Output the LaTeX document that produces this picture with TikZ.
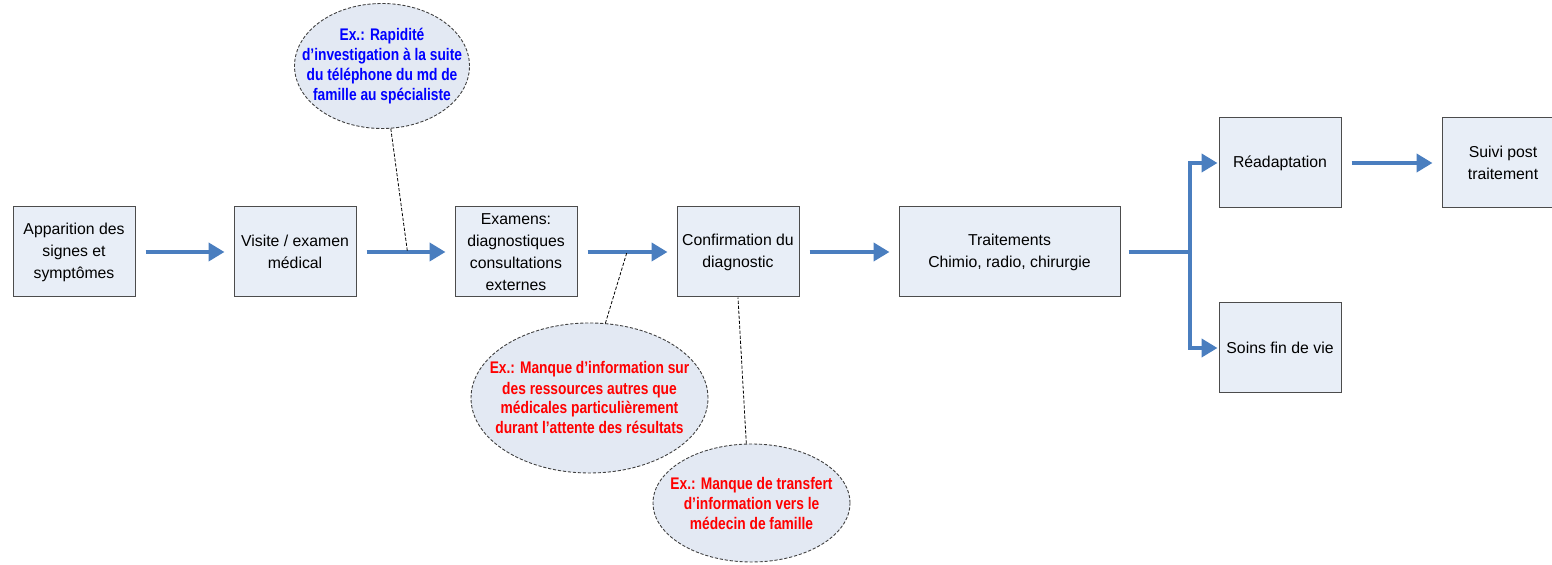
\documentclass[tikz,border=0pt]{standalone}
\usepackage{fontspec}
\setmainfont{Liberation Sans}
\newfontfamily\narrowfont{Liberation Sans}[FakeStretch=0.82]
\usetikzlibrary{positioning,shapes.geometric,arrows.meta,calc}
\definecolor{boxfill}{HTML}{E8EEF7}
\definecolor{ellfill}{HTML}{E3E9F3}
\definecolor{flowblue}{HTML}{4A7EBF}
\definecolor{noteblue}{HTML}{0000FF}
\definecolor{notered}{HTML}{FF0000}
\tikzset{
  stage/.style={draw=black!70, fill=boxfill, line width=0.5pt, minimum width=61pt,
    minimum height=45pt, inner sep=1pt, align=center, font=\fontsize{7.9}{11}\selectfont},
  note/.style={ellipse, draw=black!75, dash pattern=on 1.6pt off 0.9pt, fill=ellfill,
    line width=0.45pt, inner xsep=-20pt, inner ysep=-14pt, align=center,
    font={\narrowfont\fontsize{8.4}{10}\selectfont\bfseries}},
  flow/.style={draw=flowblue, line width=2pt, -{Triangle[length=8pt,width=9pt]},
    shorten <=5pt, shorten >=4.5pt},
  tie/.style={draw=black, line width=0.4pt, dash pattern=on 1.6pt off 0.9pt}
}

\begin{document}
\begin{tikzpicture}[x=0.5pt,y=-0.5pt]
\useasboundingbox (0,0) rectangle (1552,565);

% Nodes
  \node[stage] at (74,252)             (apparition) {Apparition des\\signes et\\symptômes};
  \node[stage, right=49pt of apparition] (visite)  {Visite / examen\\médical};
  \node[stage, right=49pt of visite]     (examens) {Examens:\\diagnostiques\\consultations\\externes};
  \node[stage, right=49.5pt of examens]  (confirm) {Confirmation du\\diagnostic};
  \node[stage, minimum width=110.5pt, right=49.5pt of confirm] (traite) {Traitements\\Chimio, radio, chirurgie};
  \node[stage] at (1280,163)           (readapt) {Réadaptation};
  \node[stage] at (1280,348)           (soins)   {Soins fin de vie};
  \node[stage, right=50pt of readapt]    (suivi)   {Suivi post\\traitement};

  \node[note, text=noteblue, minimum width=87.5pt, minimum height=62.5pt] at (382,66) (ell1)
    {Ex.: Rapidité\\d’investigation à la suite\\du téléphone du md de\\famille au spécialiste};
  \node[note, text=notered, minimum width=118.5pt, minimum height=75pt] at (589.5,398) (ell2)
    {Ex.: Manque d’information sur\\des ressources autres que\\médicales particulièrement\\durant l’attente des résultats};
  \node[note, text=notered, minimum width=98.5pt, minimum height=59pt] at (751.5,503) (ell3)
    {Ex.: Manque de transfert\\d’information vers le\\médecin de famille};

  \coordinate (tap1) at ($(visite.east)!0.52!(examens.west)$);
  \coordinate (tap2) at ($(examens.east)!0.5!(confirm.west)$);
  \coordinate (fork) at ($(traite.east)+(34.5pt,0)$);

% Edges
  \draw[flow] (apparition) -- (visite);
  \draw[flow] (visite)     -- (examens);
  \draw[flow] (examens)    -- (confirm);
  \draw[flow] (confirm)    -- (traite);
  \draw[flow, -, shorten <=4pt, shorten >=0pt] (traite) -- (fork);
  \draw[flow, shorten <=0pt, shorten >=0.5pt] (fork) |- (readapt.west);
  \draw[flow, shorten <=0pt, shorten >=0.5pt] (fork) |- (soins.west);
  \draw[flow] (readapt)    -- (suivi);

  \draw[tie] (ell1.-82) -- (tap1);
  \draw[tie] (ell2.78)  -- (tap2);
  \draw[tie] (ell3.95)  -- (confirm.south);

\end{tikzpicture}
\end{document}
